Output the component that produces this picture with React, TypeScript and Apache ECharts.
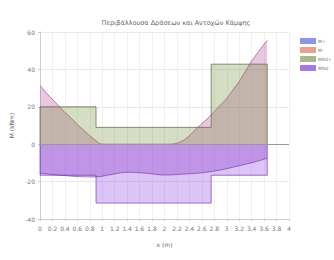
import React, { useEffect, useRef } from "react";
import * as echarts from "echarts";

const titleText = "Περιβάλλουσα Δράσεων και Αντοχών Κάμψης";
const seriesNames = ["M+", "M-", "MRd+", "MRd-"];
const legendColors = ["#8c96e6", "#eba08c", "#aab98c", "#aa78e6"];

const mPlusX = [0, 0.1, 0.2, 0.3, 0.4, 0.5, 0.6, 0.7, 0.8, 0.9, 0.95, 1.0, 1.5, 2.1, 2.2, 2.3, 2.4, 2.5, 2.6, 2.7, 2.8, 2.9, 3.0, 3.1, 3.2, 3.3, 3.4, 3.5, 3.6, 3.65];
const mPlusY = [31.5, 27.5, 24, 20.5, 17, 14, 10.5, 7.5, 4.5, 1.8, 0.5, 0, 0, 0, 0.5, 2, 4.5, 8, 11, 14, 17.5, 21, 24.5, 29, 33.5, 39, 44.5, 49, 53.5, 55.5];

const mMinusX = [0, 0.3, 0.6, 0.9, 1.1, 1.4, 1.7, 2.0, 2.3, 2.6, 2.9, 3.2, 3.45, 3.65];
const mMinusY = [-15.5, -16.5, -17.3, -17.5, -16.5, -15, -15.5, -16.5, -16, -15.3, -13.8, -11.5, -9.5, -7.5];

const mrdPlusX = [0, 0, 0.9, 0.9, 2.75, 2.75, 3.65, 3.65];
const mrdPlusY = [0, 20, 20, 9, 9, 42.8, 42.8, 0];

const mrdMinusX = [0, 0, 0.9, 0.9, 2.75, 2.75, 3.65, 3.65];
const mrdMinusY = [0, -16.6, -16.6, -31.5, -31.5, -16.6, -16.6, 0];

const zip = (xs: number[], ys: number[]) => xs.map((x, i) => [x, ys[i]]);

export default function App() {
  const ref = useRef<HTMLDivElement>(null);
  useEffect(() => {
    if (!ref.current) return;
    const chart = echarts.init(ref.current, null, { renderer: "svg" });
    const labelStyle = { fontSize: 6, color: "#777", fontFamily: "DejaVu Sans" };
    chart.setOption({
      animation: false,
      backgroundColor: "#fff",
      title: {
        text: titleText,
        left: 171,
        textAlign: "center",
        top: 14,
        textStyle: { fontSize: 6.5, fontWeight: "normal", color: "#666", fontFamily: "DejaVu Sans" },
      },
      legend: {
        orient: "vertical",
        left: 295,
        top: 33,
        itemWidth: 16,
        itemHeight: 6,
        itemGap: 3,
        icon: "rect",
        textStyle: { fontSize: 4.5, color: "#777", fontFamily: "DejaVu Sans", padding: [0, 0, 0, -3] },
        data: seriesNames.map((n, i) => ({
          name: n,
          itemStyle: { color: legendColors[i], borderColor: legendColors[i], borderWidth: 0 },
        })),
      },
      grid: { left: 40, right: 45, top: 32, bottom: 41 },
      xAxis: {
        type: "value",
        min: 0,
        max: 4,
        interval: 0.2,
        name: "x (m)",
        nameLocation: "middle",
        nameGap: 22,
        nameTextStyle: { fontSize: 6, color: "#666", fontFamily: "DejaVu Sans" },
        axisLine: { onZero: false, lineStyle: { color: "#ccc" } },
        axisTick: { show: true, length: 2, lineStyle: { color: "#ccc" } },
        axisLabel: { ...labelStyle, margin: 6, formatter: (v: number) => String(Math.round(v * 10) / 10) },
        splitLine: { show: true, lineStyle: { color: "#f0f0f0", width: 1 } },
      },
      yAxis: {
        type: "value",
        min: -40,
        max: 60,
        interval: 20,
        name: "M (kNm)",
        nameLocation: "middle",
        nameGap: 20,
        nameRotate: 90,
        nameTextStyle: { fontSize: 6, color: "#666", fontFamily: "DejaVu Sans" },
        axisLine: { show: true, lineStyle: { color: "#ccc" } },
        axisTick: { show: true, length: 2, lineStyle: { color: "#ccc" } },
        axisLabel: { ...labelStyle, margin: 5 },
        splitLine: { show: true, lineStyle: { color: "#e8e8e8", width: 1 } },
      },
      series: [
        {
          name: "M+",
          type: "line",
          data: zip(mPlusX, mPlusY),
          showSymbol: false,
          smooth: 0.2,
          z: 2,
          itemStyle: { color: legendColors[0] },
          lineStyle: { color: "rgba(170,90,150,0.8)", width: 1 },
          areaStyle: { color: "rgba(185,75,155,0.45)", origin: 0 },
        },
        {
          name: "M-",
          type: "line",
          data: zip(mMinusX, mMinusY),
          showSymbol: false,
          smooth: 0.3,
          z: 4,
          itemStyle: { color: legendColors[1] },
          lineStyle: { color: "rgba(110,40,170,0.6)", width: 1 },
          areaStyle: { color: "rgba(112,22,190,0.38)", origin: 0 },
        },
        {
          name: "MRd+",
          type: "line",
          data: zip(mrdPlusX, mrdPlusY),
          showSymbol: false,
          z: 3,
          itemStyle: { color: legendColors[2] },
          lineStyle: { color: "rgba(100,105,80,0.75)", width: 1 },
          areaStyle: { color: "rgba(95,130,30,0.38)", origin: 0 },
        },
        {
          name: "MRd-",
          type: "line",
          data: zip(mrdMinusX, mrdMinusY),
          showSymbol: false,
          z: 1,
          itemStyle: { color: legendColors[3] },
          lineStyle: { color: "rgba(120,60,180,0.7)", width: 1 },
          areaStyle: { color: "rgba(140,55,225,0.42)", origin: 0 },
          markLine: {
            silent: true,
            symbol: "none",
            label: { show: false },
            lineStyle: { color: "#999", type: "solid", width: 1 },
            data: [{ yAxis: 0 }],
          },
        },
      ],
    });
    return () => chart.dispose();
  }, []);
  return <div ref={ref} style={{ width: 334, height: 260, position: "absolute", left: 0, top: 0 }} />;
}
